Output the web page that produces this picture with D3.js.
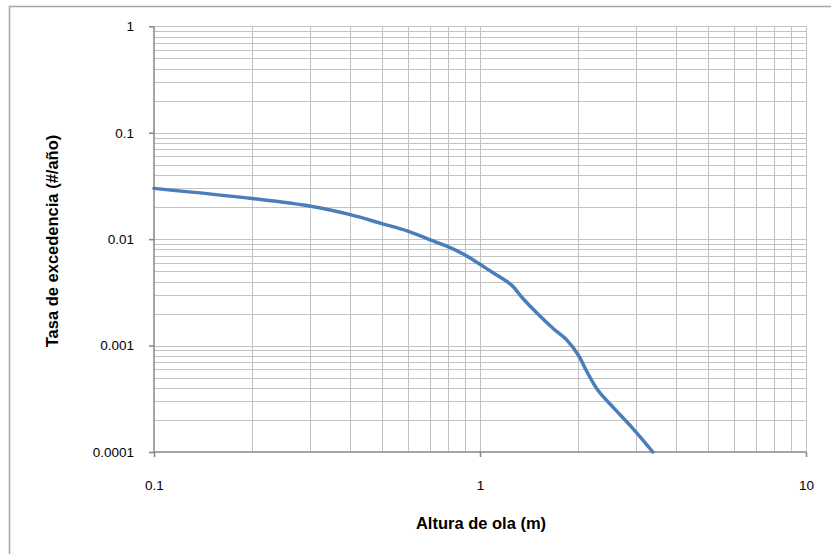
<!DOCTYPE html>
<html><head><meta charset="utf-8">
<script src="https://cdn.jsdelivr.net/npm/d3@7"></script>
<style>body{margin:0;background:#fff}svg{display:block}text{font-family:"Liberation Sans",Arial,sans-serif;fill:#000}</style>
</head><body><svg id="c" width="831" height="554"></svg>
<script>
const alturas = [0.1,0.2,0.3,0.4,0.5,0.6,0.7,0.8,0.9,1.0,1.1,1.25,1.35,1.5,1.68,1.85,2.0,2.12,2.3,2.57,2.95,3.39];
const tasas   = [0.030,0.0241,0.0205,0.0170,0.0140,0.0119,0.0099,0.00845,0.0071,0.0058,0.0048,0.0037,0.0028,0.0020,0.00144,0.00112,0.00082,0.00058,0.00038,0.00026,0.000165,0.0001];
const xTicks = [0.1,1,10];
const xTickLabels = ["0.1","1","10"];
const yTicks = [1,0.1,0.01,0.001,0.0001];
const yTickLabels = ["1","0.1","0.01","0.001","0.0001"];
const xTitle = "Altura de ola (m)";
const yTitle = "Tasa de excedencia  (#/año)";

const svg = d3.select("#c");
const L=154, R=806, T=26.3, B=452;
const x = d3.scaleLog().domain([0.1,10]).range([L,R]);
const y = d3.scaleLog().domain([0.0001,1]).range([B,T]);

// chart border
svg.append("rect").attr("x",9.5).attr("y",6.5).attr("width",900).attr("height",700)
  .attr("fill","none").attr("stroke","#a6a6a6").attr("stroke-width",1.5);

// minor/major grid values
const gridX=[], gridY=[];
for (let e=-1;e<1;e++) for (let m=1;m<=9;m++) gridX.push(m*Math.pow(10,e));
gridX.push(10);
for (let e=-4;e<0;e++) for (let m=1;m<=9;m++) gridY.push(m*Math.pow(10,e));
gridY.push(1);

const g = svg.append("g");
g.selectAll(".gx").data(gridX.filter(v=>v>0.1)).join("line")
  .attr("x1",d=>Math.round(x(d))+0.5).attr("x2",d=>Math.round(x(d))+0.5)
  .attr("y1",T).attr("y2",B).attr("stroke","#c3c3c3").attr("stroke-width",1);
g.selectAll(".gy").data(gridY.filter(v=>v>0.0001)).join("line")
  .attr("y1",d=>Math.round(y(d))+0.5).attr("y2",d=>Math.round(y(d))+0.5)
  .attr("x1",L).attr("x2",R).attr("stroke","#c3c3c3").attr("stroke-width",1);

// axes
const yAxis = d3.axisLeft(y).tickValues(yTicks).tickSize(5).tickFormat((d,i)=>yTickLabels[i]).tickPadding(15);
const xAxis = d3.axisBottom(x).tickValues(xTicks).tickSize(5).tickFormat((d,i)=>xTickLabels[i]).tickPadding(23);
const ya = svg.append("g").attr("transform",`translate(${L},0)`).call(yAxis);
const xa = svg.append("g").attr("transform",`translate(0,${B})`).call(xAxis);
[ya,xa].forEach(a=>{
  a.select(".domain").attr("stroke","#868686").attr("stroke-width",1.5);
  a.selectAll(".tick line").attr("stroke","#868686").attr("stroke-width",1.5);
  a.selectAll(".tick text").attr("font-size",13.5).attr("font-family","Liberation Sans, Arial, sans-serif").attr("fill","#000");
});
xa.select(".domain").attr("d",`M${L},0H${R}`);
ya.select(".domain").attr("d",`M0,${B}V${T}`);

// line
const line = d3.line().x(d=>x(d[0])).y(d=>y(d[1])).curve(d3.curveCatmullRom.alpha(0.5));
svg.append("path").datum(alturas.map((a,i)=>[a,tasas[i]]))
  .attr("d",line).attr("fill","none").attr("stroke","#4a7ebb").attr("stroke-width",3.5)
  .attr("stroke-linecap","round");

// titles
svg.append("text").attr("x",481).attr("y",529).attr("text-anchor","middle")
  .attr("font-size",16.5).attr("font-weight","bold").text(xTitle);
svg.append("text").attr("transform","translate(58,241) rotate(-90)").attr("text-anchor","middle")
  .attr("font-size",16.5).attr("font-weight","bold").text(yTitle);
</script></body></html>
